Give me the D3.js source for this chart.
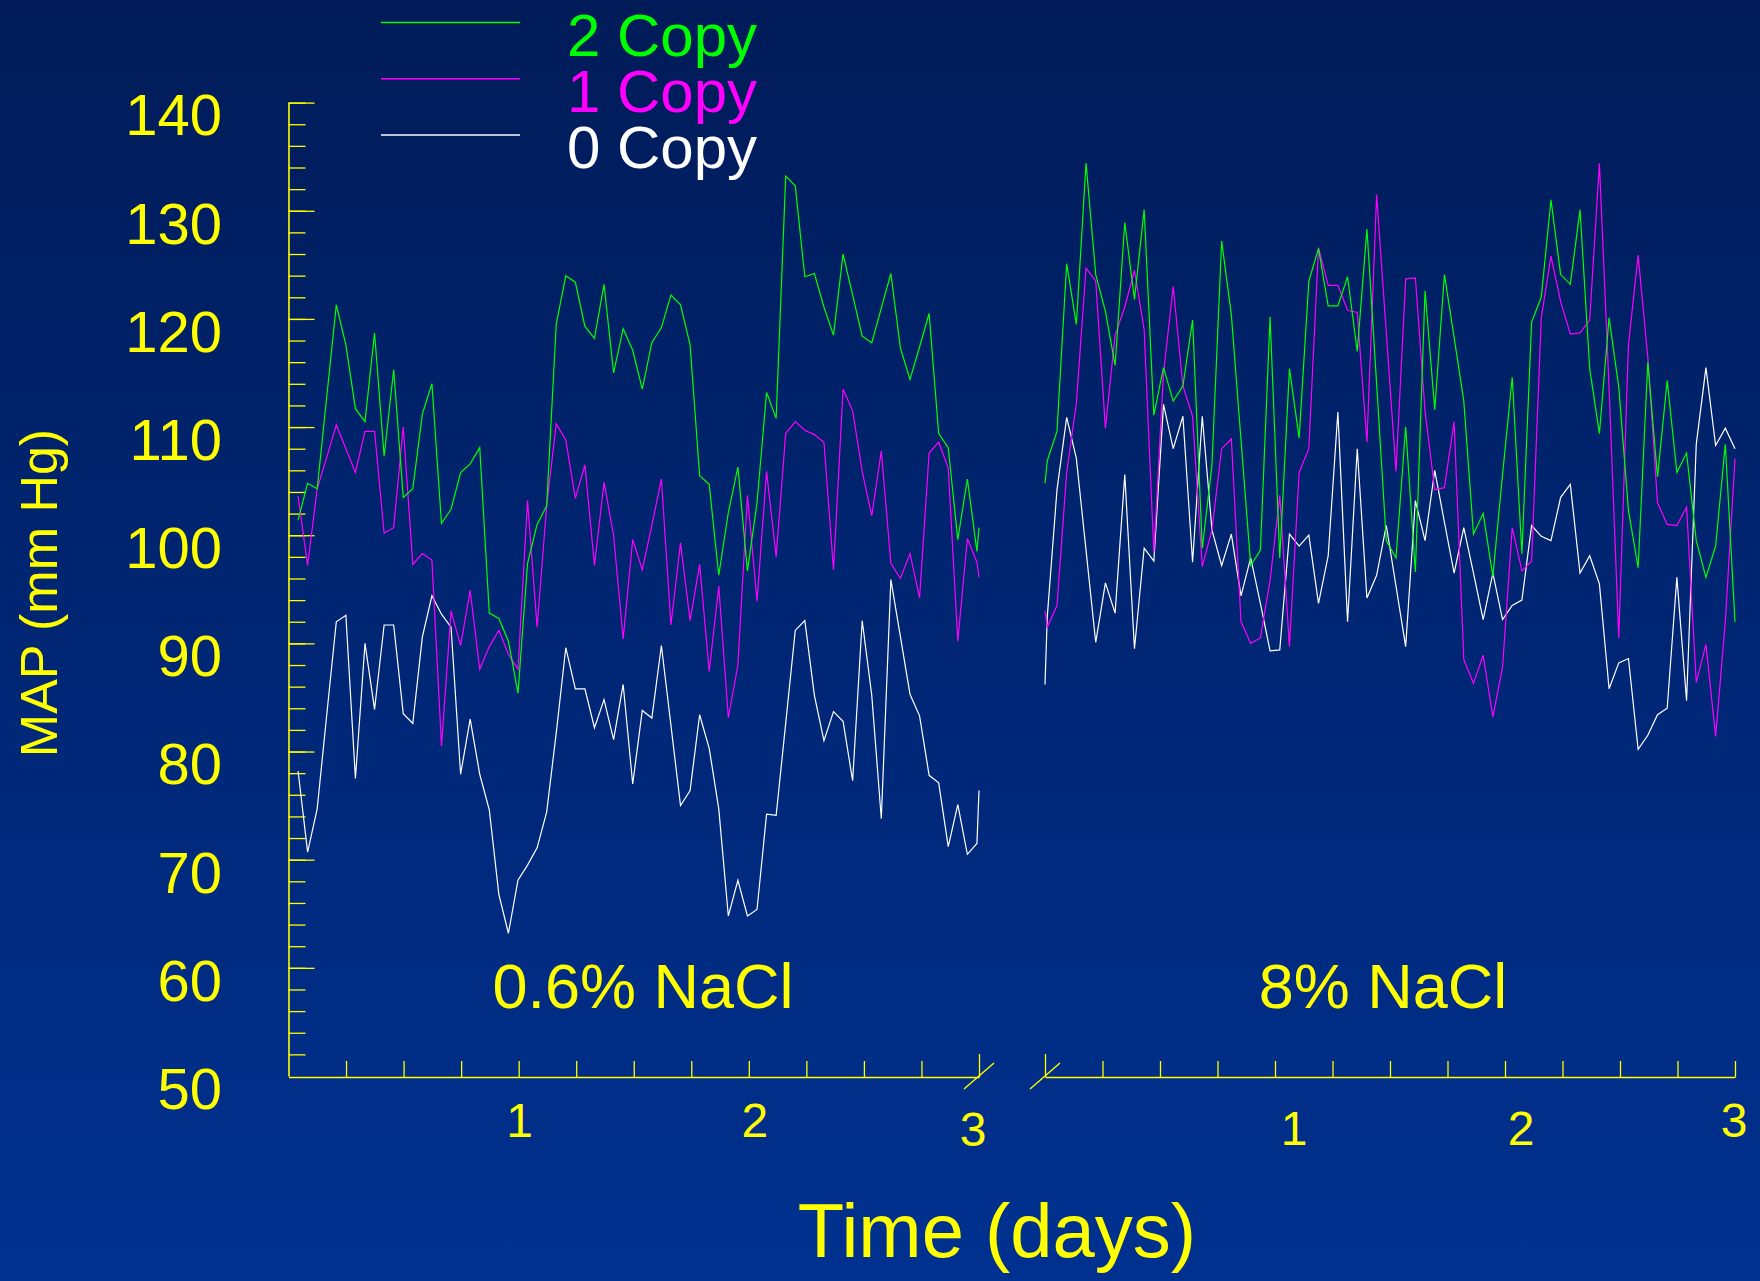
<!DOCTYPE html>
<html>
<head>
<meta charset="utf-8">
<script src="https://cdn.jsdelivr.net/npm/d3@7"></script>
<style>
  html, body { margin: 0; padding: 0; background: #00287a; }
  svg { display: block; }
</style>
</head>
<body>
<div id="chart"></div>
<script>
// Series values (MAP, mm Hg), hourly samples, 0.6% NaCl panel
const lowGreen = [101.4, 104.8, 104.3, 112.8, 121.3, 117.6, 111.7, 110.5, 118.7, 107.3, 115.3, 103.5, 104.3, 111.2,
  114.0, 101.1, 102.4, 105.8, 106.6, 108.1, 92.8, 92.3, 90.2, 85.4, 97.4, 101.0, 102.7, 119.5, 124.0,
  123.4, 119.3, 118.2, 123.2, 115.0, 119.1, 117.1, 113.5, 117.8, 119.2, 122.2, 121.3, 117.6, 105.5,
  104.7, 96.3, 102.1, 106.3, 96.7, 103.0, 113.2, 110.8, 133.2, 132.3, 123.9, 124.2, 121.1, 118.5, 126.0,
  122.2, 118.4, 117.8, 121.0, 124.2, 117.3, 114.4, 117.4, 120.5, 109.4, 108.1, 99.6, 105.2, 98.5, 100.7];
const lowMagenta = [103.6, 97.2, 104.3, 107.2, 110.2, 108.0, 105.8, 109.6, 109.6, 100.2, 100.7, 110.0, 97.3, 98.3,
  97.7, 80.5, 93.0, 89.8, 94.9, 87.6, 89.7, 91.2, 89.0, 87.6, 103.2, 91.5, 102.7, 110.3, 108.8,
  103.4, 106.5, 97.2, 104.9, 100.0, 90.4, 99.6, 96.8, 100.9, 105.2, 91.7, 99.3, 92.1, 97.3,
  87.4, 95.3, 83.1, 88.0, 103.7, 93.9, 105.9, 98.0, 109.4, 110.5, 109.7, 109.3, 108.6, 96.8, 113.5,
  111.5, 105.9, 101.8, 107.8, 97.4, 96.0, 98.3, 94.2, 107.6, 108.6, 106.2, 90.2, 99.7, 97.5, 96.1];
const lowWhite = [78.2, 70.7, 74.7, 83.4, 92.0, 92.6, 77.5, 90.0, 83.9, 91.7, 91.7, 83.5, 82.6, 90.6,
  94.4, 92.7, 91.5, 77.9, 83.0, 77.9, 74.6, 66.8, 63.2, 68.1, 69.5, 71.1, 74.4, 81.7, 89.6,
  85.8, 85.8, 82.2, 84.8, 81.1, 86.2, 77.0, 83.8, 83.1, 89.8, 82.4, 75.0, 76.4, 83.4,
  80.3, 74.7, 64.8, 68.1, 64.8, 65.4, 74.2, 74.1, 82.6, 91.2, 92.1, 85.2, 81.0, 83.7, 82.8,
  77.3, 92.1, 85.2, 73.8, 95.9, 90.6, 85.3, 83.3, 77.8, 77.1, 71.2, 75.1, 70.5, 71.5, 76.4];

// 8% NaCl panel
const highGreen = [104.8,
  106.9, 109.6, 125.1, 119.5, 134.4, 124.1, 120.7, 115.7, 128.9, 121.8, 130.1, 111.1, 115.5, 112.4,
  113.8, 119.9, 98.8, 106.5, 127.2, 120.4, 108.8, 97.2, 98.6, 120.2, 97.9, 115.4, 109.0, 123.5, 126.5,
  121.2, 121.2, 123.9, 117.0, 128.3, 114.0, 99.5, 97.9, 110.0, 96.6, 122.6, 111.6, 124.1, 118.3,
  112.4, 100.1, 102.0, 96.2, 105.6, 114.6, 98.3, 119.7, 122.0, 131.0, 124.1, 123.2, 130.1, 115.4, 109.4,
  120.1, 113.7, 102.3, 97.0, 116.0, 105.4, 114.3, 105.8, 107.6, 99.5, 96.1, 99.0, 108.4, 92.0];
const highMagenta = [93.0,
  91.5, 93.5, 105.8, 112.2, 124.7, 123.5, 109.9, 118.5, 121.1, 124.5, 119.0, 98.4, 115.0, 123.0,
  113.8, 111.0, 97.1, 100.5, 108.0, 108.9, 92.0, 90.0, 90.5, 95.8, 103.7, 89.7, 105.8, 108.0, 126.6,
  123.1, 123.1, 120.8, 120.6, 108.6, 131.5, 118.7, 105.9, 123.7, 123.8, 111.5, 104.2, 104.4, 110.5,
  88.5, 86.3, 88.9, 83.2, 87.8, 100.7, 96.7, 97.6, 120.1, 125.8, 121.6, 118.6, 118.7, 119.9, 134.4,
  113.6, 90.5, 117.6, 125.9, 116.4, 103.0, 101.0, 100.9, 102.6, 86.4, 89.9, 81.4, 92.0, 107.1];
const highWhite = [86.2,
  92.5, 104.2, 110.9, 107.1, 98.6, 90.1, 95.6, 92.8, 105.6, 89.5, 98.8, 97.6, 112.1, 108.0,
  111.0, 97.5, 111.0, 100.5, 97.2, 100.1, 94.4, 97.9, 93.7, 89.3, 89.4, 100.1, 99.0, 100.0, 93.7,
  98.1, 111.4, 92.0, 108.0, 94.2, 96.3, 100.9, 95.3, 89.7, 103.2, 99.5, 106.0, 101.2, 96.5,
  100.7, 96.5, 92.2, 96.5, 92.2, 93.5, 94.0, 100.9, 99.9, 99.5, 103.5, 104.7, 96.5, 98.1, 95.5,
  85.8, 88.2, 88.6, 80.2, 81.5, 83.4, 84.0, 96.1, 84.7, 108.4, 115.5, 108.3, 109.9, 108.0];

// sample times in hours (sampling slightly under 1 h; short end/lead segments)
const lowHours = d3.range(72).map(i => (i + 1) * 0.997).concat([72]);
const highHours = [0].concat(d3.range(72).map(i => 0.24 + i * 1.0107));

const seriesNames = ['0 Copy', '1 Copy', '2 Copy'];
const seriesColors = ['#ffffff', '#ff00ff', '#00ff00'];
const legendOrder = ['2 Copy', '1 Copy', '0 Copy'];
const yTickLabels = [140, 130, 120, 110, 100, 90, 80, 70, 60, 50];
const dayLabels = ['1', '2', '3'];
const panelTitles = ['0.6% NaCl', '8% NaCl'];

const W = 1760, H = 1281;
const font = "'Liberation Sans', Arial, Helvetica, sans-serif";
const yellow = '#ffff00';

const svg = d3.select('#chart').append('svg')
  .attr('width', W).attr('height', H)
  .attr('viewBox', `0 0 ${W} ${H}`);

// Background gradient
const grad = svg.append('defs').append('linearGradient')
  .attr('id', 'bg').attr('x1', 0).attr('y1', 0).attr('x2', 0).attr('y2', 1);
grad.append('stop').attr('offset', '0%').attr('stop-color', '#001b58');
grad.append('stop').attr('offset', '100%').attr('stop-color', '#003190');
svg.append('rect').attr('width', W).attr('height', H).attr('fill', 'url(#bg)');

// Scales
const y = d3.scaleLinear().domain([50, 140]).range([1076, 102.6]);
const xLow = d3.scaleLinear().domain([0, 72]).range([288.5, 979]);
const xHigh = d3.scaleLinear().domain([0, 72]).range([1045, 1735]);

// Y axis: minor ticks every 2, major every 10
const yMinor = svg.append('g').attr('transform', 'translate(288.5,0)')
  .call(d3.axisRight(y).tickValues(d3.range(52, 141, 2)).tickSize(17).tickSizeOuter(0).tickFormat(''));
const yMajor = svg.append('g').attr('transform', 'translate(288.5,0)')
  .call(d3.axisRight(y).tickValues(d3.range(60, 141, 10)).tickSize(26).tickSizeOuter(0).tickFormat(''));
yMajor.select('.domain').remove();
[yMinor, yMajor].forEach(g => {
  g.selectAll('line').attr('stroke', yellow).attr('stroke-width', 1.3);
  g.select('.domain').attr('stroke', yellow).attr('stroke-width', 1.6);
});

// Y tick labels
svg.append('g').selectAll('text').data(yTickLabels).join('text')
  .attr('x', 222).attr('y', d => y(d) + 12)
  .attr('dy', '0.36em')
  .attr('text-anchor', 'end')
  .attr('font-family', font).attr('font-size', 58)
  .attr('fill', yellow)
  .text(d => d);

// X axes (ticks every 6 h, pointing up)
function xAxis(scale, values, tallAt) {
  const g = svg.append('g').attr('transform', 'translate(0,1077)')
    .call(d3.axisTop(scale).tickValues(values).tickSize(16).tickSizeOuter(0).tickFormat(''));
  g.selectAll('.tick line')
    .attr('y2', d => d === tallAt ? -23 : -16)
    .attr('stroke', yellow).attr('stroke-width', 1.3);
  g.select('.domain').attr('stroke', yellow).attr('stroke-width', 1.6);
  return g;
}
xAxis(xLow, d3.range(6, 73, 6), 72);
xAxis(xHigh, d3.range(0, 73, 6), 0);

// Axis break marks
[xLow(72), xHigh(0)].forEach(bx => {
  svg.append('line')
    .attr('x1', bx - 15).attr('y1', 1089).attr('x2', bx + 15).attr('y2', 1063)
    .attr('stroke', yellow).attr('stroke-width', 1.4);
});

// Day labels (placed slightly off the ticks as in the slide)
const lowNudge = [{ dx: 1, y: 1137 }, { dx: 6, y: 1137 }, { dx: -6, y: 1146 }];
const highNudge = [{ dx: 19, y: 1145 }, { dx: 16, y: 1145 }, { dx: -1, y: 1137 }];
[[xLow, lowNudge], [xHigh, highNudge]].forEach(([scale, nudge]) => {
  svg.append('g').selectAll('text').data(dayLabels).join('text')
    .attr('x', (d, i) => scale(+d * 24) + nudge[i].dx)
    .attr('y', (d, i) => nudge[i].y)
    .attr('text-anchor', 'middle')
    .attr('font-family', font).attr('font-size', 48)
    .attr('fill', yellow)
    .text(d => d);
});

// Data lines
const line = scale => d3.line().x(d => scale(d.t)).y(d => y(d.v));
const lowSeries = [lowWhite, lowMagenta, lowGreen];
const highSeries = [highWhite, highMagenta, highGreen];
lowSeries.forEach((vals, k) => {
  svg.append('path')
    .datum(vals.map((v, i) => ({ t: lowHours[i], v })))
    .attr('d', line(xLow))
    .attr('fill', 'none').attr('stroke', seriesColors[k]).attr('stroke-width', 1.2);
});
highSeries.forEach((vals, k) => {
  svg.append('path')
    .datum(vals.map((v, i) => ({ t: highHours[i], v })))
    .attr('d', line(xHigh))
    .attr('fill', 'none').attr('stroke', seriesColors[k]).attr('stroke-width', 1.2);
});

// Panel titles
svg.append('text').attr('x', 643).attr('y', 1008)
  .attr('text-anchor', 'middle').attr('font-family', font).attr('font-size', 63)
  .attr('fill', yellow).text(panelTitles[0]);
svg.append('text').attr('x', 1383).attr('y', 1008)
  .attr('text-anchor', 'middle').attr('font-family', font).attr('font-size', 63)
  .attr('fill', yellow).text(panelTitles[1]);

// Legend
const legendY = d3.scalePoint().domain(legendOrder).range([22.5, 135]);
const legend = svg.append('g');
legendOrder.forEach(name => {
  const c = seriesColors[seriesNames.indexOf(name)];
  legend.append('line')
    .attr('x1', 381).attr('x2', 520)
    .attr('y1', legendY(name)).attr('y2', legendY(name))
    .attr('stroke', c).attr('stroke-width', 1.3);
  legend.append('text')
    .attr('x', 567).attr('y', legendY(name) + 33)
    .attr('font-family', font).attr('font-size', 60)
    .attr('fill', c).text(name);
});

// Axis titles
svg.append('text')
  .attr('transform', 'translate(57,593) rotate(-90)')
  .attr('text-anchor', 'middle').attr('font-family', font).attr('font-size', 52)
  .attr('fill', yellow).text('MAP (mm Hg)');
svg.append('text').attr('x', 997).attr('y', 1257)
  .attr('text-anchor', 'middle').attr('font-family', font).attr('font-size', 76)
  .attr('fill', yellow).text('Time (days)');
</script>
</body>
</html>
